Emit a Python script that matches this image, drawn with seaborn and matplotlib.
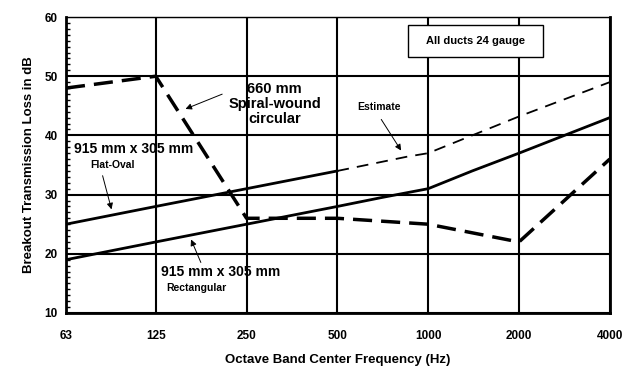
import numpy as np
import matplotlib
matplotlib.use("Agg")
import matplotlib.pyplot as plt
import matplotlib.ticker as mticker
from matplotlib.patches import Rectangle
import seaborn as sns
import pandas as pd

# octave band centres (Hz)
freq_ticks = [63, 125, 250, 500, 1000, 2000, 4000]

# 915 x 305 flat-oval, measured part
oval_freq = [63, 125, 250, 500]
oval_tl = [25, 28, 31, 34]

# flat-oval estimate (thin dashed)
est_freq = [500, 850, 1000, 2000, 4000]
est_tl = [34, 36.4, 37, 43.2, 49]

# 915 x 305 rectangular
rect_freq = [63, 125, 250, 500, 700, 1000, 1400, 2000, 4000]
rect_tl = [19, 22, 25, 28, 29.5, 31, 34, 37, 43]

# 660 mm spiral-wound circular
spiral_freq = [63, 125, 250, 500, 1000, 2000, 4000]
spiral_tl = [48, 50, 26, 26, 25, 22, 36]

sns.set_theme(style="white")
plt.rcParams['font.family'] = ['Liberation Sans', 'DejaVu Sans']
plt.rcParams['font.weight'] = 'bold'
plt.rcParams['text.color'] = 'black'
plt.rcParams['axes.labelcolor'] = 'black'
plt.rcParams['xtick.color'] = 'black'
plt.rcParams['ytick.color'] = 'black'

fig = plt.figure(figsize=(6.42, 3.77), dpi=100)
ax = fig.add_axes([0.1028, 0.1698, 0.847, 0.785])

ax.set_xscale('log', base=2)

sns.lineplot(x=oval_freq, y=oval_tl, ax=ax, color='black', lw=2.0, sort=False)
sns.lineplot(x=est_freq, y=est_tl, ax=ax, color='black', lw=1.3,
             linestyle=(0, (6.5, 4.5)), sort=False)
sns.lineplot(x=rect_freq, y=rect_tl, ax=ax, color='black', lw=2.0, sort=False)
sns.lineplot(x=spiral_freq, y=spiral_tl, ax=ax, color='black', lw=2.5,
             linestyle=(0, (5.5, 2.6)), sort=False)

ax.set_xlim(63, 4000)
ax.set_ylim(10, 60)
ax.xaxis.set_major_locator(mticker.FixedLocator(freq_ticks))
ax.xaxis.set_major_formatter(mticker.FixedFormatter([str(f) for f in freq_ticks]))
ax.xaxis.set_minor_locator(mticker.NullLocator())
ax.set_yticks([10, 20, 30, 40, 50, 60])
ax.yaxis.set_minor_locator(mticker.MultipleLocator(1))

ax.grid(True, which='major', color='black', lw=1.5)
ax.tick_params(axis='both', which='major', labelsize=8.5, length=4, width=1.5,
               direction='out', color='black', pad=8)
ax.tick_params(axis='y', which='minor', length=3, width=1, direction='in',
               color='black', left=True)
ax.tick_params(axis='y', which='major', pad=2)
for lab in ax.get_xticklabels() + ax.get_yticklabels():
    lab.set_fontweight('bold')

for side in ['left', 'bottom', 'right']:
    ax.spines[side].set_linewidth(2)
    ax.spines[side].set_color('black')
ax.spines['top'].set_linewidth(1)
ax.spines['top'].set_color('black')

ax.set_xlabel('Octave Band Center Frequency (Hz)', fontsize=9.5,
              fontweight='bold', labelpad=9)
ax.set_ylabel('Breakout Transmission Loss in dB', fontsize=9.5,
              fontweight='bold', labelpad=7)

arrow = dict(arrowstyle='-|>', color='black', lw=0.7, mutation_scale=9)

ax.text(0.384, 0.706, '660 mm\nSpiral-wound\ncircular', transform=ax.transAxes,
        ha='center', va='center', fontsize=10.5, fontweight='bold',
        linespacing=1.05)
ax.annotate('', xy=(0.215, 0.686), xytext=(0.292, 0.743),
            xycoords='axes fraction', textcoords='axes fraction', arrowprops=arrow)

ax.text(0.125, 0.554, '915 mm x 305 mm', transform=ax.transAxes,
        ha='center', va='center', fontsize=10, fontweight='bold')
ax.text(0.085, 0.50, 'Flat-Oval', transform=ax.transAxes,
        ha='center', va='center', fontsize=7.5, fontweight='bold')
ax.annotate('', xy=(0.085, 0.341), xytext=(0.066, 0.473),
            xycoords='axes fraction', textcoords='axes fraction', arrowprops=arrow)

ax.text(0.175, 0.139, '915 mm x 305 mm', transform=ax.transAxes,
        ha='left', va='center', fontsize=10, fontweight='bold')
ax.text(0.184, 0.084, 'Rectangular', transform=ax.transAxes,
        ha='left', va='center', fontsize=7.5, fontweight='bold')
ax.annotate('', xy=(0.228, 0.257), xytext=(0.25, 0.162),
            xycoords='axes fraction', textcoords='axes fraction', arrowprops=arrow)

ax.text(0.575, 0.696, 'Estimate', transform=ax.transAxes,
        ha='center', va='center', fontsize=7.5, fontweight='bold')
ax.annotate('', xy=(0.619, 0.541), xytext=(0.577, 0.662),
            xycoords='axes fraction', textcoords='axes fraction', arrowprops=arrow)

ax.add_patch(Rectangle((0.629, 0.865), 0.248, 0.108, transform=ax.transAxes,
                       facecolor='white', edgecolor='black', lw=1, zorder=5))
ax.text(0.753, 0.919, 'All ducts 24 gauge', transform=ax.transAxes,
        ha='center', va='center', fontsize=8, fontweight='bold', zorder=6)

fig.savefig('out.png', dpi=100)
